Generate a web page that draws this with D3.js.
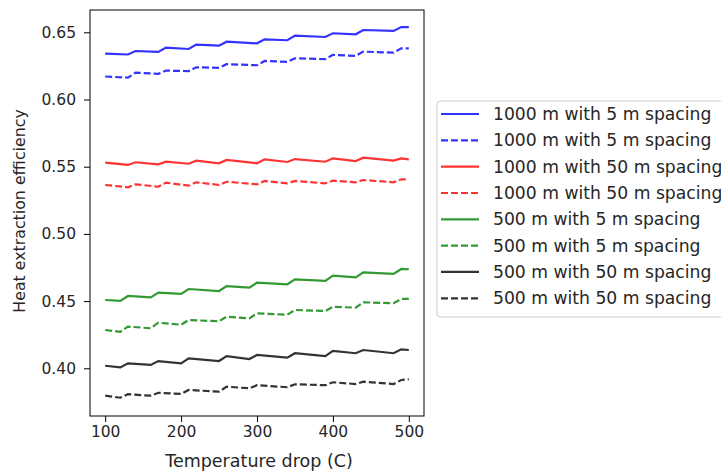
<!DOCTYPE html>
<html><head><meta charset="utf-8">
<script src="https://cdn.jsdelivr.net/npm/d3@7"></script>
<style>body{margin:0;background:#fff;} svg{display:block;} text{font-family:"DejaVu Sans",sans-serif;fill:#262626;}</style>
</head><body>
<svg id="c" width="721" height="472"></svg>
<script>
const x1000 = [100,130,140,170,180,210,220,250,260,300,310,340,350,390,400,430,440,480,490,500];
const x500  = [100,120,130,160,170,200,210,250,260,290,300,340,350,390,400,430,440,480,490,500];
const blueSolid  = [0.6341,0.6335,0.6361,0.6354,0.6386,0.6376,0.6409,0.6401,0.6430,0.6418,0.6448,0.6441,0.6475,0.6465,0.6493,0.6485,0.6517,0.6510,0.6539,0.6539];
const blueDash   = [0.6171,0.6163,0.6200,0.6191,0.6215,0.6211,0.6240,0.6235,0.6263,0.6255,0.6287,0.6280,0.6307,0.6300,0.6332,0.6324,0.6356,0.6349,0.6381,0.6381];
const redSolid   = [0.5530,0.5513,0.5533,0.5518,0.5537,0.5522,0.5545,0.5525,0.5550,0.5525,0.5555,0.5535,0.5557,0.5537,0.5562,0.5542,0.5567,0.5545,0.5562,0.5555];
const redDash    = [0.5364,0.5347,0.5369,0.5351,0.5381,0.5359,0.5384,0.5364,0.5388,0.5369,0.5394,0.5376,0.5394,0.5376,0.5396,0.5384,0.5401,0.5384,0.5406,0.5406];
const greenSolid = [0.4508,0.4501,0.4538,0.4528,0.4563,0.4553,0.4590,0.4575,0.4612,0.4600,0.4637,0.4625,0.4662,0.4650,0.4689,0.4677,0.4714,0.4702,0.4739,0.4737];
const greenDash  = [0.4285,0.4272,0.4310,0.4298,0.4339,0.4324,0.4359,0.4350,0.4384,0.4372,0.4409,0.4399,0.4434,0.4426,0.4458,0.4451,0.4491,0.4484,0.4516,0.4516];
const blackSolid = [0.4019,0.4007,0.4037,0.4025,0.4054,0.4037,0.4074,0.4054,0.4091,0.4069,0.4099,0.4079,0.4112,0.4091,0.4129,0.4112,0.4136,0.4112,0.4141,0.4136];
const blackDash  = [0.3796,0.3781,0.3807,0.3796,0.3818,0.3809,0.3839,0.3826,0.3863,0.3851,0.3874,0.3859,0.3881,0.3874,0.3896,0.3883,0.3900,0.3883,0.3913,0.3918];
const labels = ["1000 m with 5 m spacing","1000 m with 5 m spacing","1000 m with 50 m spacing","1000 m with 50 m spacing","500 m with 5 m spacing","500 m with 5 m spacing","500 m with 50 m spacing","500 m with 50 m spacing"];
const xTicks = [100,200,300,400,500];
const yTicks = [0.40,0.45,0.50,0.55,0.60,0.65];

const series = [
  {x:x1000, y:blueSolid,  c:"#3333ff", dash:false},
  {x:x1000, y:blueDash,   c:"#3333ff", dash:true},
  {x:x1000, y:redSolid,   c:"#ff3333", dash:false},
  {x:x1000, y:redDash,    c:"#ff3333", dash:true},
  {x:x500,  y:greenSolid, c:"#339933", dash:false},
  {x:x500,  y:greenDash,  c:"#339933", dash:true},
  {x:x500,  y:blackSolid, c:"#333333", dash:false},
  {x:x500,  y:blackDash,  c:"#333333", dash:true}
];
series.forEach((s,i)=>s.label=labels[i]);

const L=90, R=424, T=10, B=416;
const svg = d3.select("#c");
const x = d3.scaleLinear().domain([80,520]).range([L,R]);
const y = d3.scaleLinear().domain([0.3645,0.6666]).range([B,T]);

const line = d3.line().x(d=>x(d[0])).y(d=>y(d[1]));
svg.append("g").selectAll("path").data(series).join("path")
  .attr("d", s=>line(s.x.map((v,i)=>[v,s.y[i]])))
  .attr("fill","none").attr("stroke",s=>s.c).attr("stroke-width",2.2)
  .attr("stroke-dasharray",s=>s.dash?"7,3":null);

const xa = svg.append("g").attr("transform",`translate(0,${B})`)
  .call(d3.axisBottom(x).tickValues(xTicks).tickSize(6).tickPadding(4));
const ya = svg.append("g").attr("transform",`translate(${L},0)`)
  .call(d3.axisLeft(y).tickValues(yTicks).tickFormat(d3.format(".2f")).tickSize(6).tickPadding(8));
[xa,ya].forEach(a=>{a.select(".domain").remove();
  a.selectAll("line").attr("stroke","#000").attr("stroke-width",1);
  a.selectAll("text").attr("font-size",15.5).attr("font-family","DejaVu Sans").attr("fill","#262626");});

svg.append("rect").attr("x",L).attr("y",T).attr("width",R-L).attr("height",B-T)
  .attr("fill","none").attr("stroke","#000").attr("stroke-width",1);

svg.append("text").attr("x",(L+R)/2 + 2).attr("y",467).attr("text-anchor","middle")
  .attr("font-size",17.5).text("Temperature drop (C)");
svg.append("text").attr("transform",`translate(25,${(T+B)/2 - 2}) rotate(-90)`).attr("text-anchor","middle")
  .attr("font-size",15.8).text("Heat extraction efficiency");

const lg = svg.append("g");
lg.append("rect").attr("x",437).attr("y",101).attr("width",300).attr("height",216).attr("rx",3)
  .attr("fill","#fff").attr("fill-opacity",0.8).attr("stroke","#ccc").attr("stroke-width",1);
const rowY = d3.scaleLinear().domain([0,7]).range([114,298.3]);
series.forEach((s,i)=>{
  lg.append("line").attr("x1",441).attr("x2",479).attr("y1",rowY(i)).attr("y2",rowY(i))
    .attr("stroke",s.c).attr("stroke-width",2.2).attr("stroke-dasharray",s.dash?"7,3":null);
  lg.append("text").attr("x",493).attr("y",rowY(i)).attr("dy","0.35em").attr("font-size",17.2).text(s.label);
});
</script>
</body></html>
